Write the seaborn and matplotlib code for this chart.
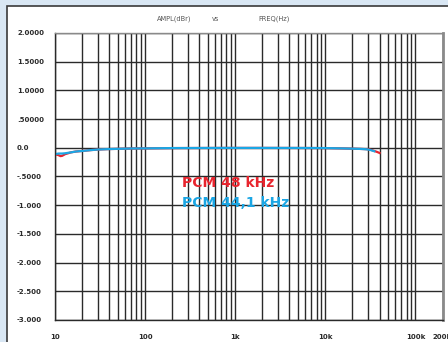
import numpy as np
import pandas as pd
import matplotlib
matplotlib.use("Agg")
import matplotlib.pyplot as plt
from matplotlib.patches import Rectangle
import seaborn as sns

# ---- data ----
freq_48 = [10, 11, 11.5, 12, 13, 14, 15, 17, 20, 25, 30, 40, 50, 70, 100, 200, 500,
           1000, 2000, 5000, 10000, 15000, 20000, 25000, 30000, 32000, 35000, 38000, 40000]
amp_48 = [-0.11, -0.13, -0.145, -0.14, -0.11, -0.095, -0.08, -0.065, -0.055, -0.04, -0.03,
          -0.022, -0.018, -0.012, -0.01, -0.005, -0.003, -0.002, -0.002, -0.003, -0.005,
          -0.01, -0.015, -0.02, -0.025, -0.035, -0.055, -0.075, -0.09]
freq_441 = [10, 11, 12, 13, 15, 17, 20, 25, 30, 40, 50, 70, 100, 200, 500,
            1000, 2000, 5000, 10000, 15000, 20000, 25000, 28000, 30000, 32000, 35000]
amp_441 = [-0.11, -0.10, -0.10, -0.095, -0.08, -0.065, -0.055, -0.04, -0.03, -0.022,
           -0.018, -0.012, -0.01, -0.005, -0.003, -0.002, -0.002, -0.003, -0.005, -0.01,
           -0.015, -0.02, -0.025, -0.03, -0.04, -0.06]

y_ticks = [2.0, 1.5, 1.0, 0.5, 0.0, -0.5, -1.0, -1.5, -2.0, -2.5, -3.0]
y_tick_labels = ["2.0000", "1.5000", "1.0000", ".50000", "0.0", "-.5000", "-1.000",
                 "-1.500", "-2.000", "-2.500", "-3.000"]
x_ticks = [10, 100, 1000, 10000, 100000, 200000]
x_tick_labels = ["10", "100", "1k", "10k", "100k", "200k"]
series_names = ["PCM 48 kHz", "PCM 44,1 kHz"]
title_parts = ["AMPL(dBr)", "vs", "FREQ(Hz)"]

RED = "#e8252e"
BLUE = "#1ba6e4"

df = pd.concat([
    pd.DataFrame({"freq": freq_48, "amp": amp_48, "series": series_names[0]}),
    pd.DataFrame({"freq": freq_441, "amp": amp_441, "series": series_names[1]}),
])

W, H, DPI = 448, 342, 100
fig = plt.figure(figsize=(W / DPI, H / DPI), dpi=DPI)
fig.patch.set_facecolor("#d9e7f4")
fig.patches.append(Rectangle((7 / W, -0.01), 1.0, 1 - 6 / H + 0.01, transform=fig.transFigure,
                             facecolor="white", edgecolor="#3a3a3a", linewidth=1.2, zorder=-10))

ax = fig.add_axes([55 / W, 1 - 320 / H, (442.5 - 55) / W, (320 - 33) / H])
ax.set_zorder(5)
ax.set_facecolor("white")

sns.lineplot(data=df, x="freq", y="amp", hue="series", palette=[RED, BLUE],
             hue_order=series_names, ax=ax, linewidth=1.6, legend=False,
             estimator=None, sort=True)

ax.set_xscale("log")
ax.set_xlim(10, 200000)
ax.set_ylim(-3.0, 2.0)

ax.set_xticks(x_ticks)
ax.set_xticklabels(x_tick_labels)
minor = [m * d for d in [10, 100, 1000, 10000, 100000] for m in range(2, 10)]
ax.set_xticks([v for v in minor if v < 200000], minor=True)
ax.set_yticks(y_ticks)
ax.set_yticklabels(y_tick_labels)
for lbl in ax.get_yticklabels():
    lbl.set_horizontalalignment("left")
for lbl in ax.get_yticklabels() + ax.get_xticklabels():
    lbl.set_fontweight("bold")

ax.tick_params(axis="y", which="both", length=0, pad=38 * 72 / DPI, labelsize=5.0,
               labelcolor="#2a2a2a")
ax.tick_params(axis="x", which="both", length=0, pad=10, labelsize=5.0, labelcolor="#2a2a2a")

ax.grid(True, which="both", axis="x", color="#2a2a2a", linewidth=1.0)
ax.grid(True, which="major", axis="y", color="#2a2a2a", linewidth=1.0)
ax.set_axisbelow(True)

for side in ["left", "bottom"]:
    ax.spines[side].set_color("#2a2a2a")
    ax.spines[side].set_linewidth(1.0)
ax.spines["top"].set_color("#8a8a8a")
ax.spines["top"].set_linewidth(1.0)
ax.spines["right"].set_color("#8a8a8a")
ax.spines["right"].set_linewidth(2.0)

ax.set_xlabel("")
ax.set_ylabel("")

# title pieces
fig.text(157 / W, 1 - 19 / H, title_parts[0], fontsize=4.8, color="#555555", va="center", ha="left")
fig.text(212 / W, 1 - 19 / H, title_parts[1], fontsize=4.8, color="#555555", va="center", ha="left")
fig.text(258 / W, 1 - 19 / H, title_parts[2], fontsize=4.8, color="#555555", va="center", ha="left")

# legend-like labels
ax.text(182 / W, 1 - 183 / H, series_names[0], fontsize=10, fontweight="bold",
        color=RED, va="center", ha="left", family="DejaVu Sans", transform=fig.transFigure,
        zorder=10)
ax.text(182 / W, 1 - 203 / H, series_names[1], fontsize=10, fontweight="bold",
        color=BLUE, va="center", ha="left", family="DejaVu Sans", transform=fig.transFigure,
        zorder=10)

fig.savefig("out.png", dpi=DPI, facecolor=fig.get_facecolor())
